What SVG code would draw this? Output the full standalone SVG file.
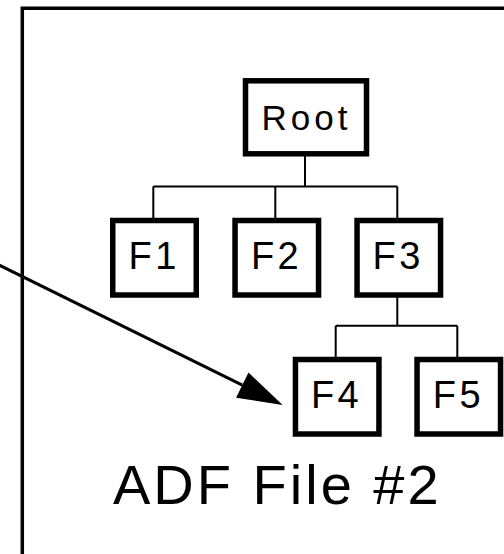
<svg xmlns="http://www.w3.org/2000/svg" width="504" height="554" viewBox="0 0 504 554">
  <style>
    .frame { fill: none; stroke: #000; stroke-width: 3.5; }
    .box { fill: #fff; stroke: #000; stroke-width: 5.5; }
    .link { fill: none; stroke: #000; stroke-width: 2; }
    .pointer { fill: none; stroke: #000; stroke-width: 3; }
    .label { font-family: "Liberation Sans", Arial, sans-serif; fill: #000; }
    .f { font-size: 38px; letter-spacing: 3.4px; }
  </style>
  <defs>
    <marker id="head" markerUnits="userSpaceOnUse" markerWidth="46" markerHeight="28" refX="0" refY="14" orient="auto" overflow="visible">
      <path d="M0,0 L45,14 L0,28 Z" fill="#000"/>
    </marker>
  </defs>

  <rect width="504" height="554" fill="#fff"/>

  <!-- file frame -->
  <path class="frame" d="M22.3,556 V8.3 H510"/>

  <!-- tree connectors -->
  <g id="connectors">
    <path class="link" d="M305,156 V186.5 M153.3,186.5 H397.3 M153.3,186.5 V218 M275.3,186.5 V218 M397.3,186.5 V218"/>
    <path class="link" d="M397.3,297 V325.7 M335.7,325.7 H457.3 M335.7,325.7 V357 M457.3,325.7 V357"/>
    <path class="pointer" d="M-10,260.6 L242.3,385.1" marker-end="url(#head)"/>
  </g>

  <g id="root">
    <rect class="box" x="245.5" y="80.8" width="121" height="73"/>
    <text class="label" x="261.5" y="130" font-size="35" letter-spacing="4">Root</text>
  </g>
  <g id="f1">
    <rect class="box" x="112.75" y="220.5" width="83.5" height="74.5"/>
    <text class="label f" x="128.6" y="268.7">F1</text>
  </g>
  <g id="f2">
    <rect class="box" x="235.05" y="220.5" width="83.5" height="74.5"/>
    <text class="label f" x="250.9" y="268.7">F2</text>
  </g>
  <g id="f3">
    <rect class="box" x="357.05" y="220.5" width="83.5" height="74.5"/>
    <text class="label f" x="372.6" y="268.7">F3</text>
  </g>
  <g id="f4">
    <rect class="box" x="295.45" y="359.5" width="83.5" height="74.5"/>
    <text class="label f" x="311" y="408">F4</text>
  </g>
  <g id="f5">
    <rect class="box" x="417.05" y="359.5" width="83.5" height="74.5"/>
    <text class="label f" x="432.8" y="408">F5</text>
  </g>

  <text id="caption" class="label" x="113" y="504" font-size="56" letter-spacing="3">ADF File #2</text>
</svg>
